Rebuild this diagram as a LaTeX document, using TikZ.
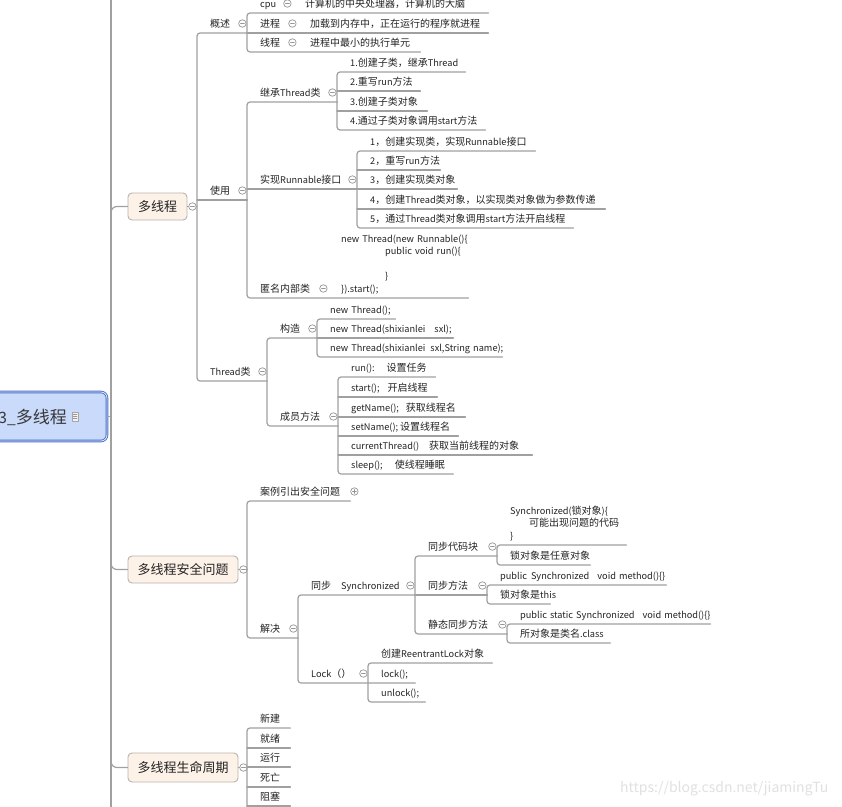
\documentclass[tikz,border=0pt]{standalone}
\usepackage{fontspec}
\setmainfont{Noto Sans CJK SC}[Scale=0.92]
\newfontfamily\cjkfam{Noto Sans CJK SC}
\usetikzlibrary{calc}
\definecolor{ink}{RGB}{35,35,35}
\definecolor{linegray}{RGB}{160,160,160}
\definecolor{foldgray}{RGB}{150,150,150}
\definecolor{branchfill}{RGB}{253,242,232}
\definecolor{branchline}{RGB}{185,178,170}
\definecolor{rootfill}{RGB}{201,218,250}
\definecolor{rootblue}{RGB}{72,110,200}
\definecolor{wmgray}{RGB}{225,225,225}
\newcommand\topicfont{\fontsize{10pt}{12.5pt}\selectfont}
\newcommand\branchfont{\fontsize{13pt}{15pt}\selectfont}
\newcommand\rootfont{\fontsize{17pt}{20pt}\selectfont}
% Chinese characters in full size, Latin letters a little narrower
\newcount\cjkcode
\newcommand\cjkrange[2]{\cjkcode=#1\relax
  \loop\XeTeXcharclass\cjkcode=7\relax\ifnum\cjkcode<#2\advance\cjkcode by 1\repeat}
\cjkrange{"3000}{"303F}
\cjkrange{"4E00}{"9FFF}
\cjkrange{"FF00}{"FFEF}
\XeTeXinterchartokenstate=1
\XeTeXinterchartoks 0 7 = {\cjkfam}
\XeTeXinterchartoks 4095 7 = {\cjkfam}
\XeTeXinterchartoks 7 0 = {\rmfamily}
\XeTeXinterchartoks 4095 0 = {\rmfamily}

\begin{document}
\begin{tikzpicture}[x=1pt,y=-1pt, line cap=round, line join=round]

\tikzset{
  link/.style={draw=linegray, line width=1.2pt},
  topic/.style={anchor=south west, inner xsep=13pt, inner ysep=3.5pt, text width={(#1-26)*1pt},
    text depth=2pt, font=\topicfont, text=ink,
    execute at begin node=\hbox\bgroup, execute at end node=\egroup},
  branch/.style={rectangle, rounded corners=4pt, draw=branchline, fill=branchfill, line width=0.9pt,
    minimum height=27pt, inner sep=0pt, font=\branchfont, text=ink},
  root/.style={rectangle, rounded corners=6pt, draw=rootblue, line width=0.9pt,
    double=white!60!rootfill, double distance=0.8pt, fill=rootfill, minimum width=127pt, minimum height=49pt},
  fold/.style={circle, draw=foldgray, fill=white, line width=0.7pt, minimum size=7.5pt, inner sep=0pt,
    path picture={\draw[foldgray, line width=0.7pt] ([xshift=1.8pt]path picture bounding box.west) -- ([xshift=-1.8pt]path picture bounding box.east);}},
  unfold/.style={fold,
    path picture={\draw[foldgray, line width=0.7pt] ([xshift=1.8pt]path picture bounding box.west) -- ([xshift=-1.8pt]path picture bounding box.east);
      \draw[foldgray, line width=0.7pt] ([yshift=1.8pt]path picture bounding box.south) -- ([yshift=-1.8pt]path picture bounding box.north);}},
  docicon/.style={rectangle, draw=gray!70, fill=gray!10, line width=0.5pt, minimum width=6pt, minimum height=9pt, inner sep=0pt,
    path picture={\draw[gray!80, line width=0.4pt] ([xshift=1pt,yshift=-2.5pt]path picture bounding box.north west) -- ([xshift=-1pt,yshift=-2.5pt]path picture bounding box.north east);
      \draw[gray!80, line width=0.4pt] ([xshift=1pt,yshift=-4.5pt]path picture bounding box.north west) -- ([xshift=-1pt,yshift=-4.5pt]path picture bounding box.north east);
      \draw[gray!80, line width=0.4pt] ([xshift=1pt,yshift=-6.5pt]path picture bounding box.north west) -- ([xshift=-1pt,yshift=-6.5pt]path picture bounding box.north east);}},
  wmark/.style={font=\fontsize{15.2pt}{17pt}\selectfont, text=wmgray, inner sep=0pt}
}

\useasboundingbox (0,0) rectangle (842,806);
\clip (0,0) rectangle (842,806);
\fill[white] (0,0) rectangle (842,806);

% trunk and root
\coordinate (ttop) at (111,-10);
\coordinate (tbot) at (111,816);
\draw[link] (ttop) -- (tbot);
\node[root] (root) at (43.5,416.5) {};
\node[font=\rootfont, text=ink!90, anchor=east, inner sep=0pt] (roottext) at (67,417) {3\_多线程};
\node[docicon] (rooticon) at (75,416.5) {};
\draw[link] (root.east) -- (root.east -| ttop);

% main branches
\node[branch, minimum width=59pt] (b1) at (157.5,206.5) {多线程};
\node[branch, minimum width=110pt] (b2) at (183,569.5) {多线程安全问题};
\node[branch, minimum width=110pt, minimum height=29pt] (b3) at (183,767.5) {多线程生命周期};
\draw[link, rounded corners=6pt] ($(b1.west -| ttop)+(0,14)$) |- (b1.west);
\draw[link, rounded corners=6pt] ($(b2.west -| ttop)+(0,-14)$) |- (b2.west);
\draw[link, rounded corners=6pt] ($(b3.west -| ttop)+(0,-14)$) |- (b3.west);

% 多线程
\node[topic=50] (gaishu) at (197,33) {概述};
\node[topic=45] (cpu) at (247,13) {cpu};
\node[topic=196] (cpud) at (292,13) {计算机的中央处理器，计算机的大脑};
\node[topic=50] (jincheng) at (247,33) {进程};
\node[topic=191] (jinchengd) at (297,33) {加载到内存中，正在运行的程序就进程};
\node[topic=50] (xiancheng) at (247,52) {线程};
\node[topic=123] (xianchengd) at (297,52) {进程中最小的执行单元};

\node[topic=50] (shiyong) at (197,200) {使用};
\node[topic=90] (jicheng) at (247,102) {继承Thread类};
\node[topic=128] (j1) at (337,72) {1.创建子类，继承Thread};
\node[topic=83] (j2) at (337,91) {2.重写run方法};
\node[topic=90] (j3) at (337,111) {3.创建子类对象};
\node[topic=148] (j4) at (337,130) {4.通过子类对象调用start方法};
\node[topic=110] (shixian) at (247,189) {实现Runnable接口};
\node[topic=178] (s1) at (357,151) {1，创建实现类，实现Runnable接口};
\node[topic=83] (s2) at (357,170) {2，重写run方法};
\node[topic=100] (s3) at (357,189) {3，创建实现类对象};
\node[topic=248] (s4) at (357,209) {4，创建Thread类对象，以实现类对象做为参数传递};
\node[topic=216] (s5) at (357,228) {5，通过Thread类对象调用start方法开启线程};
\node[topic=81] (niming) at (247,298) {匿名内部类};
\node[topic=140] (nimingd) at (328,298) {\begin{tabular}[b]{@{}l@{}}new Thread(new Runnable()\{\\\hspace{44pt}public void run()\{\\ \\\hspace{44pt}\}\\\}).start();\end{tabular}};

\node[topic=70] (threadcls) at (197,381) {Thread类};
\node[topic=50] (gouzao) at (267,338) {构造};
\node[topic=78] (g1) at (317,319) {new Thread();};
\node[topic=136] (g2) at (317,338) {new Thread(shixianlei\hspace{9pt}sxl);};
\node[topic=185] (g3) at (317,357) {new Thread(shixianlei\hspace{5pt}sxl,String name);};
\node[topic=71] (chengyuan) at (267,426) {成员方法};
\node[topic=97] (c1) at (338,377) {run():\hspace{12pt}设置任务};
\node[topic=99] (c2) at (338,397) {start();\hspace{8pt}开启线程};
\node[topic=127] (c3) at (338,417) {getName();\hspace{7pt}获取线程名};
\node[topic=120] (c4) at (338,436) {setName();\hspace{2pt}设置线程名};
\node[topic=194] (c5) at (338,455) {currentThread()\hspace{10pt}获取当前线程的对象};
\node[topic=115] (c6) at (338,474) {sleep();\hspace{12pt}使线程睡眠};

\node[fold] (b1-f) at ([xshift=5pt]b1.east) {};
\node[fold] (gaishu-f) at ([shift={(-5pt,9.5pt)}]gaishu.south east) {};
\node[fold] (cpu-f) at ([shift={(-5pt,9.5pt)}]cpu.south east) {};
\node[fold] (jincheng-f) at ([shift={(-5pt,9.5pt)}]jincheng.south east) {};
\node[fold] (xiancheng-f) at ([shift={(-5pt,9.5pt)}]xiancheng.south east) {};
\node[fold] (shiyong-f) at ([shift={(-5pt,9.5pt)}]shiyong.south east) {};
\node[fold] (jicheng-f) at ([shift={(-5pt,9.5pt)}]jicheng.south east) {};
\node[fold] (shixian-f) at ([shift={(-5pt,9.5pt)}]shixian.south east) {};
\node[fold] (niming-f) at ([shift={(-5pt,9.5pt)}]niming.south east) {};
\node[fold] (threadcls-f) at ([shift={(-5pt,9.5pt)}]threadcls.south east) {};
\node[fold] (gouzao-f) at ([shift={(-5pt,9.5pt)}]gouzao.south east) {};
\node[fold] (chengyuan-f) at ([shift={(-5pt,9.5pt)}]chengyuan.south east) {};

\draw[link] (b1.east) -- (b1-f.west);
\draw[link] (b1-f.east) -- (b1.east -| gaishu.south west);
\draw[link, rounded corners=3pt] (gaishu.south east) -- (gaishu.south west) -- (threadcls.south west) -- (threadcls.south east);
\draw[link] (shiyong.south west) -- (shiyong.south east);
\draw[link, rounded corners=3pt] (cpud.south east) -- (cpu.south west) -- (xiancheng.south west) -- (xianchengd.south east);
\draw[link] (jincheng.south west) -- (jinchengd.south east);
\draw[link, rounded corners=3pt] (jicheng.south east) -- (jicheng.south west) -- (niming.south west) -- (nimingd.south east);
\draw[link] (shixian.south west) -- (shixian.south east);
\draw[link, rounded corners=3pt] (j1.south east) -- (j1.south west) -- (j4.south west) -- (j4.south east);
\draw[link] (j2.south west) -- (j2.south east);
\draw[link] (j3.south west) -- (j3.south east);
\draw[link, rounded corners=3pt] (s1.south east) -- (s1.south west) -- (s5.south west) -- (s5.south east);
\draw[link] (s2.south west) -- (s2.south east);
\draw[link] (s3.south west) -- (s3.south east);
\draw[link] (s4.south west) -- (s4.south east);
\draw[link, rounded corners=3pt] (gouzao.south east) -- (gouzao.south west) -- (chengyuan.south west) -- (chengyuan.south east);
\draw[link, rounded corners=3pt] (g1.south east) -- (g1.south west) -- (g3.south west) -- (g3.south east);
\draw[link] (g2.south west) -- (g2.south east);
\draw[link, rounded corners=3pt] (c1.south east) -- (c1.south west) -- (c6.south west) -- (c6.south east);
\draw[link] (c2.south west) -- (c2.south east);
\draw[link] (c3.south west) -- (c3.south east);
\draw[link] (c4.south west) -- (c4.south east);
\draw[link] (c5.south west) -- (c5.south east);

% 多线程安全问题
\node[topic=103] (anli) at (247,501) {案例引出安全问题};
\node[topic=51] (jiejue) at (247,638) {解决};
\node[topic=117] (tongbu) at (298,595) {同步\hspace{10pt}Synchronized};
\node[topic=82] (daimakuai) at (415,556) {同步代码块};
\node[topic=129] (d1) at (497,545) {\begin{tabular}[b]{@{}l@{}}Synchronized(锁对象)\{\\\hspace{19pt}可能出现问题的代码\\\}\end{tabular}};
\node[topic=93] (d2) at (497,565) {锁对象是任意对象};
\node[topic=72] (fangfa) at (415,595) {同步方法};
\node[topic=179] (f1) at (487,585) {public\hspace{4pt}Synchronized\hspace{8pt}void method()\{\}};
\node[topic=63] (f2) at (487,604) {锁对象是this};
\node[topic=92] (jingtai) at (415,634) {静态同步方法};
\node[topic=203] (t1) at (507,624) {public static Synchronized\hspace{8pt}void method()\{\}};
\node[topic=103] (t2) at (507,643) {所对象是类名.class};
\node[topic=70] (lock) at (298,683) {Lock（）};
\node[topic=124] (l1) at (368,663) {创建ReentrantLock对象};
\node[topic=47] (l2) at (368,683) {lock();};
\node[topic=57] (l3) at (368,702) {unlock();};

\node[fold] (b2-f) at ([xshift=5pt]b2.east) {};
\node[unfold] (anli-f) at ([shift={(4pt,9.5pt)}]anli.south east) {};
\node[fold] (jiejue-f) at ([shift={(-5pt,9.5pt)}]jiejue.south east) {};
\node[fold] (tongbu-f) at ([shift={(-5pt,9.5pt)}]tongbu.south east) {};
\node[fold] (daimakuai-f) at ([shift={(-5pt,9.5pt)}]daimakuai.south east) {};
\node[fold] (fangfa-f) at ([shift={(-5pt,9.5pt)}]fangfa.south east) {};
\node[fold] (jingtai-f) at ([shift={(-5pt,9.5pt)}]jingtai.south east) {};
\node[fold] (lock-f) at ([shift={(-5pt,9.5pt)}]lock.south east) {};

\draw[link] (b2.east) -- (b2-f.west);
\draw[link] (b2-f.east) -- (b2.east -| anli.south west);
\draw[link, rounded corners=3pt] (anli.south east) -- (anli.south west) -- (jiejue.south west) -- (jiejue.south east);
\draw[link, rounded corners=3pt] (tongbu.south east) -- (tongbu.south west) -- (lock.south west) -- (l2.south east);
\draw[link, rounded corners=3pt] (daimakuai.south east) -- (daimakuai.south west) -- (jingtai.south west) -- (jingtai.south east);
\draw[link] (fangfa.south west) -- (fangfa.south east);
\draw[link, rounded corners=3pt] (d1.south east) -- (d1.south west) -- (d2.south west) -- (d2.south east);
\draw[link, rounded corners=3pt] (f1.south east) -- (f1.south west) -- (f2.south west) -- (f2.south east);
\draw[link, rounded corners=3pt] (t1.south east) -- (t1.south west) -- (t2.south west) -- (t2.south east);
\draw[link, rounded corners=3pt] (l1.south east) -- (l1.south west) -- (l3.south west) -- (l3.south east);

% 多线程生命周期
\node[topic=43] (xinjian) at (247,728) {新建};
\node[topic=43] (jiuxu) at (247,748) {就绪};
\node[topic=43] (yunxing) at (247,767) {运行};
\node[topic=43] (siwang) at (247,787) {死亡};
\node[topic=43] (zuse) at (247,806) {阻塞};
\node[fold] (b3-f) at ([xshift=5pt]b3.east) {};

\draw[link] (b3.east) -- (b3-f.west);
\draw[link] (b3-f.east) -- (b3.east -| xinjian.south west);
\draw[link, rounded corners=3pt] (xinjian.south east) -- (xinjian.south west) -- ([yshift=-12pt]zuse.south west);
\draw[link] (jiuxu.south west) -- (jiuxu.south east);
\draw[link] (yunxing.south west) -- (yunxing.south east);
\draw[link] (siwang.south west) -- (siwang.south east);
\draw[link] (zuse.south west) -- (zuse.south east);

\node[wmark, anchor=base west] (wm) at (620,792) {https://blog.csdn.net/jiamingTu};

\end{tikzpicture}
\end{document}
